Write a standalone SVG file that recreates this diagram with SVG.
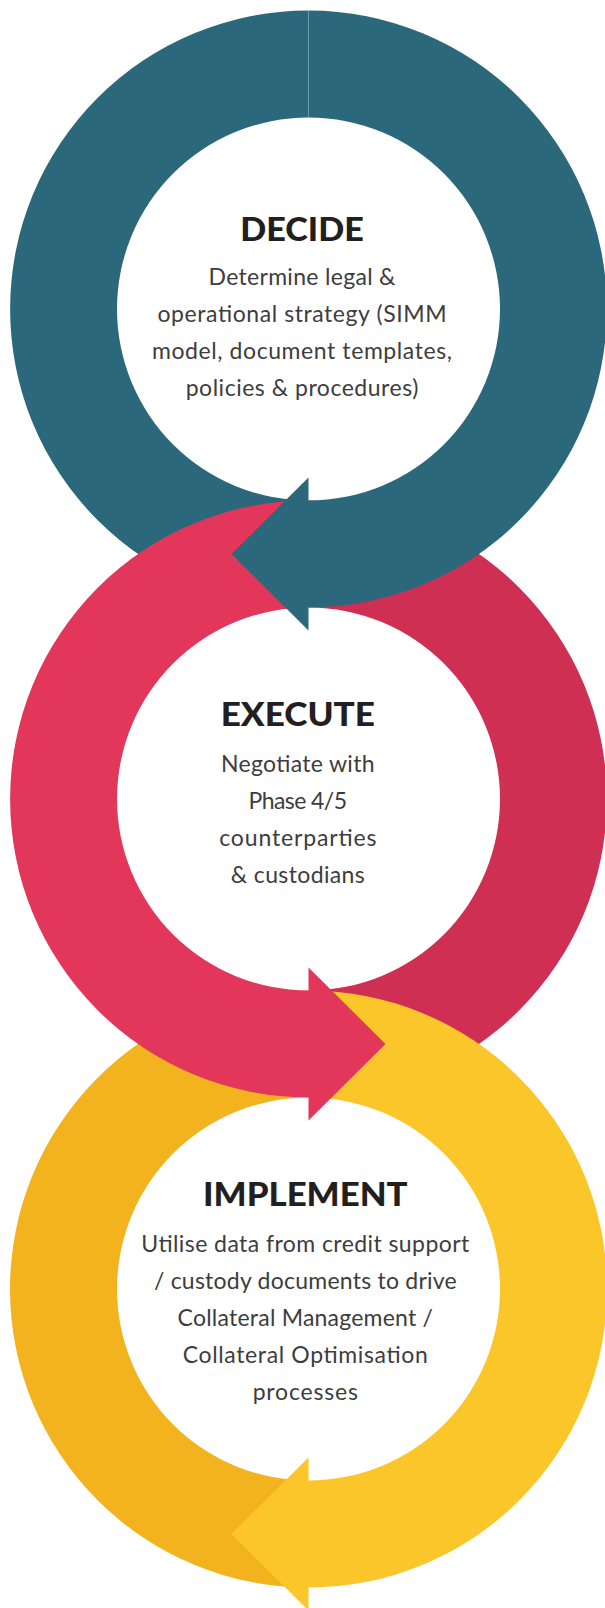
<svg xmlns="http://www.w3.org/2000/svg" width="605" height="1608" viewBox="0 0 605 1608">
<style>
.teal{fill:#2C687C}
.redL{fill:#E2365A}
.redR{fill:#CE2F52}
.yelL{fill:#F2B31F}
.yelR{fill:#FBC629}
.h{font-family:Lato,"Liberation Sans",sans-serif;font-weight:900;font-size:32px;fill:#231F20;text-anchor:middle}
.b{font-family:Lato,"Liberation Sans",sans-serif;font-weight:400;font-size:23px;fill:#3D3D3D;text-anchor:middle}
</style>
<rect width="605" height="1608" fill="#ffffff"/>
<g id="rings">
  <path id="decide-left" class="teal" d="M308.5,10.5 A298.5,298.5 0 0 0 308.5,607.5 L308.5,500.5 A191.5,191.5 0 0 1 308.5,117.5 Z"/>
  <path id="implement-left" class="yelL" d="M308.5,990.5 A298.5,298.5 0 0 0 308.5,1587.5 L308.5,1480.5 A191.5,191.5 0 0 1 308.5,1097.5 Z"/>
  <path id="execute-left" class="redL" d="M308.5,500.5 A298.5,298.5 0 0 0 308.5,1097.5 L308.5,990.5 A191.5,191.5 0 0 1 308.5,607.5 Z"/>
  <path id="execute-right" class="redR" d="M308.5,500.5 A298.5,298.5 0 0 1 308.5,1097.5 L308.5,990.5 A191.5,191.5 0 0 0 308.5,607.5 Z"/>
  <path id="decide-right" class="teal" d="M308.5,10.5 A298.5,298.5 0 0 1 308.5,607.5 L308.5,500.5 A191.5,191.5 0 0 0 308.5,117.5 Z"/>
  <path id="implement-right" class="yelR" d="M308.5,990.5 A298.5,298.5 0 0 1 308.5,1587.5 L308.5,1480.5 A191.5,191.5 0 0 0 308.5,1097.5 Z"/>
</g>
<g id="connectors">
  <path id="arrow-decide" class="teal" d="M308.5,477.5 L231.5,554 L308.5,630.5 L308.5,607 L310,607 L310,501 L308.5,501 Z"/>
  <path id="arrow-execute" class="redL" d="M308.5,967.5 L385.5,1044 L308.5,1120.5 L308.5,1097 L307,1097 L307,991 L308.5,991 Z"/>
  <path id="arrow-implement" class="yelR" d="M308.5,1457.5 L231.5,1534 L308.5,1610.5 L308.5,1587 L310,1587 L310,1481 L308.5,1481 Z"/>
  <line x1="308.5" y1="11" x2="308.5" y2="117.5" stroke="#6F9AA9" stroke-width="0.8"/>
</g>
<g id="node-decide">
  <text class="h" x="302" y="240.5" textLength="123.5" lengthAdjust="spacingAndGlyphs">DECIDE</text>
  <text class="b" x="302" y="284.7" textLength="187" lengthAdjust="spacing">Determine legal &amp;</text>
  <text class="b" x="302" y="322.3" textLength="289" lengthAdjust="spacing">operational strategy (SIMM</text>
  <text class="b" x="302" y="359.3" textLength="300" lengthAdjust="spacing">model, document templates,</text>
  <text class="b" x="302" y="396.3" textLength="232.6" lengthAdjust="spacing">policies &amp; procedures)</text>
</g>
<g id="node-execute">
  <text class="h" x="297.8" y="725.5" textLength="154.3" lengthAdjust="spacingAndGlyphs">EXECUTE</text>
  <text class="b" x="297.8" y="771.5" textLength="153.5" lengthAdjust="spacing">Negotiate with</text>
  <text class="b" x="297.8" y="808.7" textLength="98.4" lengthAdjust="spacing">Phase 4/5</text>
  <text class="b" x="297.8" y="846" textLength="157.1" lengthAdjust="spacing">counterparties</text>
  <text class="b" x="297.8" y="883.3" textLength="133.9" lengthAdjust="spacing">&amp; custodians</text>
</g>
<g id="node-implement">
  <text class="h" x="305.3" y="1205.5" textLength="204.5" lengthAdjust="spacingAndGlyphs">IMPLEMENT</text>
  <text class="b" x="305.3" y="1252" textLength="328" lengthAdjust="spacing">Utilise data from credit support</text>
  <text class="b" x="305.3" y="1288.7" textLength="302.8" lengthAdjust="spacing">/ custody documents to drive</text>
  <text class="b" x="305.3" y="1325.8" textLength="255.4" lengthAdjust="spacing">Collateral Management /</text>
  <text class="b" x="305.3" y="1363.3" textLength="245" lengthAdjust="spacing">Collateral Optimisation</text>
  <text class="b" x="305.3" y="1400.2" textLength="105.3" lengthAdjust="spacing">processes</text>
</g>
</svg>
